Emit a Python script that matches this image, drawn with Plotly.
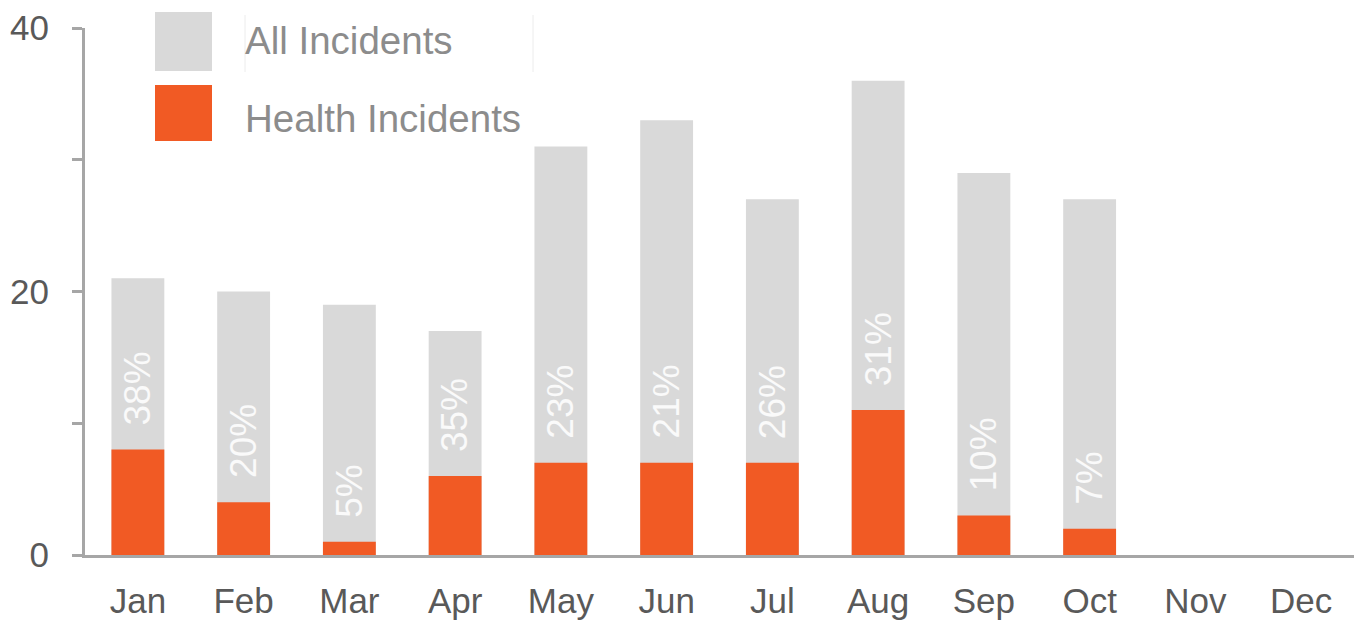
import plotly.graph_objects as go

months = ["Jan", "Feb", "Mar", "Apr", "May", "Jun", "Jul", "Aug", "Sep", "Oct", "Nov", "Dec"]
all_incidents = [21, 20, 19, 17, 31, 33, 27, 36, 29, 27, None, None]
health_incidents = [8, 4, 1, 6, 7, 7, 7, 11, 3, 2, None, None]
pct_labels = ["38%", "20%", "5%", "35%", "23%", "21%", "26%", "31%", "10%", "7%"]
y_tickvals = [0, 10, 20, 30, 40]
y_ticktext = ["0", "", "20", "", "40"]

GRAY = "#d9d9d9"
ORANGE = "#f15a24"
AXIS = "#a6a6a6"
FONT = "Liberation Sans, Arial, sans-serif"

# page has an 8px body margin, the figure starts at (8, 8) in the window
fig = go.Figure(layout=go.Layout(width=1346, height=614))

fig.add_trace(go.Bar(x=months, y=all_incidents, name="All Incidents",
                     marker_color=GRAY, marker_line_width=0))
fig.add_trace(go.Bar(x=months, y=health_incidents, name="Health Incidents",
                     marker_color=ORANGE, marker_line_width=0))

# percentage labels, rotated, sitting above the orange part
for m, h, p in zip(months, health_incidents, pct_labels):
    fig.add_annotation(x=m, y=h, text=p, textangle=-90, showarrow=False,
                       xanchor="center", yanchor="bottom", yshift=22,
                       font=dict(family=FONT, size=37, color="#fafafa"))

# legend drawn by hand so the swatches can be large
def px_x(v):
    return (v - 85) / 1269

def px_y(v):
    return (555 - v) / 527

fig.add_shape(type="rect", xref="paper", yref="paper", x0=px_x(155), x1=px_x(212),
              y0=px_y(71), y1=px_y(12), fillcolor=GRAY, line_width=0)
fig.add_shape(type="rect", xref="paper", yref="paper", x0=px_x(155), x1=px_x(212),
              y0=px_y(141), y1=px_y(85), fillcolor=ORANGE, line_width=0)
for lx in (245, 533):
    fig.add_shape(type="line", xref="paper", yref="paper", x0=px_x(lx), x1=px_x(lx),
                  y0=px_y(72), y1=px_y(15), line=dict(color="#ececec", width=1))
fig.add_annotation(xref="paper", yref="paper", x=px_x(243), y=px_y(40), text="All Incidents",
                   showarrow=False, xanchor="left", yanchor="middle",
                   font=dict(family=FONT, size=38.5, color="#8c8c8c"))
fig.add_annotation(xref="paper", yref="paper", x=px_x(243), y=px_y(118), text="Health Incidents",
                   showarrow=False, xanchor="left", yanchor="middle",
                   font=dict(family=FONT, size=38.5, color="#8c8c8c"))

fig.update_layout(
    barmode="overlay",
    bargap=0.5,
    showlegend=False,
    plot_bgcolor="white",
    paper_bgcolor="white",
    margin=dict(l=77, r=0, t=20, b=67),
    font=dict(family=FONT, size=35, color="#595959"),
    xaxis=dict(showline=True, linecolor=AXIS, linewidth=3, ticks="",
               showgrid=False, ticklabelstandoff=13, automargin=False),
    yaxis=dict(range=[0, 40], tickvals=y_tickvals, ticktext=y_ticktext,
               showline=True, linecolor=AXIS, linewidth=3, ticks="outside",
               ticklen=10, tickwidth=3, tickcolor=AXIS, showgrid=False,
               zeroline=False, ticklabelstandoff=16, automargin=False),
)

fig.write_html("out.html")
